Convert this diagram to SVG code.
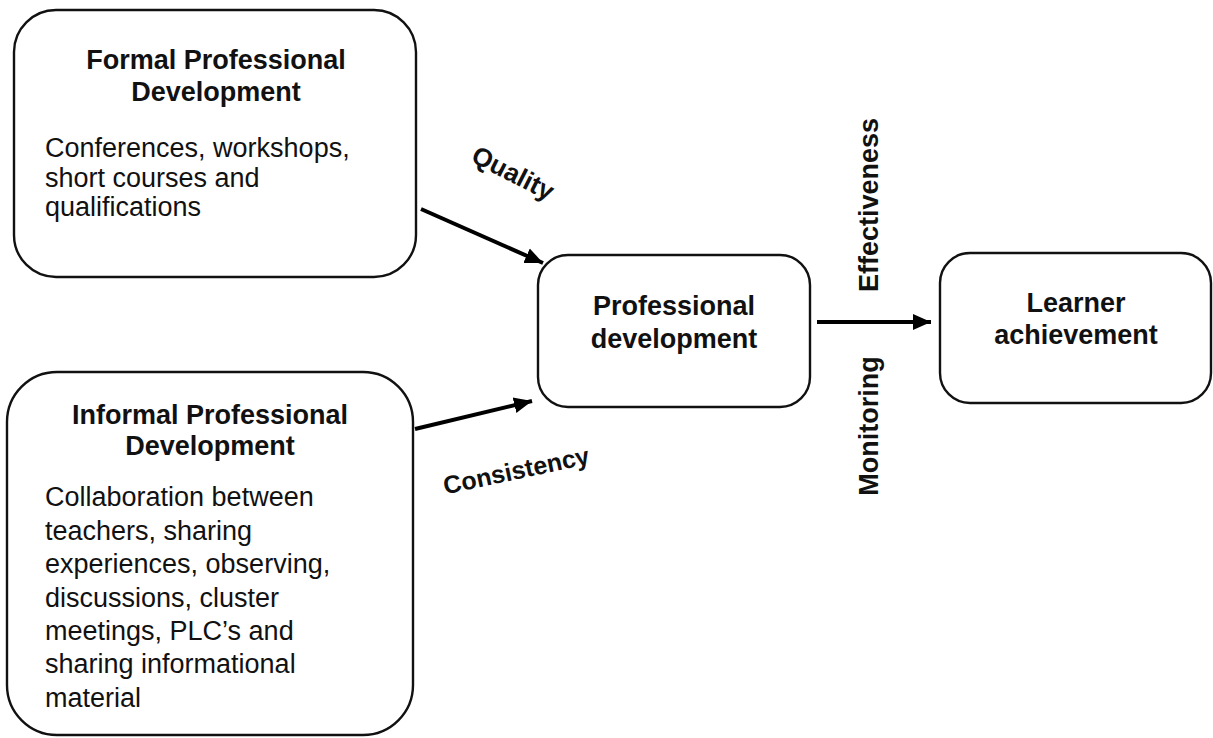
<svg xmlns="http://www.w3.org/2000/svg" width="1213" height="738" viewBox="0 0 1213 738">
  <style>
    .box { fill: #ffffff; stroke: #111111; stroke-width: 2.4; }
    .t { font-family: "Liberation Sans", Arial, sans-serif; font-size: 27px; fill: #111111; }
    .b { font-weight: bold; }
    .mid { text-anchor: middle; }
    .lbl { font-family: "Liberation Sans", Arial, sans-serif; font-size: 25px; font-weight: bold; fill: #111111; text-anchor: middle; }
    .lbl.big { font-size: 26px; }
    .vlbl { font-family: "Liberation Sans", Arial, sans-serif; font-size: 27px; font-weight: bold; fill: #111111; text-anchor: middle; }
    .arrow { stroke: #000000; stroke-width: 4; fill: none; marker-end: url(#head); }
  </style>
  <defs>
    <marker id="head" markerUnits="userSpaceOnUse" markerWidth="20" markerHeight="18" refX="18" refY="9" orient="auto">
      <path d="M0,1 L18,9 L0,17 Z" fill="#000000"/>
    </marker>
  </defs>
  <rect width="1213" height="738" fill="#ffffff"/>

  <g id="formal-pd">
    <rect class="box" x="14" y="10" width="402" height="267" rx="42" ry="42"/>
    <text class="t b mid" x="216" y="69">Formal Professional</text>
    <text class="t b mid" x="216" y="101">Development</text>
    <text class="t" x="45" y="157">Conferences, workshops,</text>
    <text class="t" x="45" y="187">short courses and</text>
    <text class="t" x="45" y="216">qualifications</text>
  </g>

  <g id="informal-pd">
    <rect class="box" x="7" y="372" width="406" height="363" rx="50" ry="50"/>
    <text class="t b mid" x="210" y="424">Informal Professional</text>
    <text class="t b mid" x="210" y="455">Development</text>
    <text class="t" x="45" y="506">Collaboration between</text>
    <text class="t" x="45" y="540">teachers, sharing</text>
    <text class="t" x="45" y="573">experiences, observing,</text>
    <text class="t" x="45" y="607">discussions, cluster</text>
    <text class="t" x="45" y="640">meetings, PLC’s and</text>
    <text class="t" x="45" y="673">sharing informational</text>
    <text class="t" x="45" y="707">material</text>
  </g>

  <g id="professional-development">
    <rect class="box" x="538" y="255" width="272" height="152" rx="30" ry="30"/>
    <text class="t b mid" x="674" y="315">Professional</text>
    <text class="t b mid" x="674" y="348">development</text>
  </g>

  <g id="learner-achievement">
    <rect class="box" x="940" y="253" width="271" height="150" rx="30" ry="30"/>
    <text class="t b mid" x="1076" y="312">Learner</text>
    <text class="t b mid" x="1076" y="344">achievement</text>
  </g>

  <g id="connectors">
    <line class="arrow" x1="421" y1="209" x2="543" y2="263"/>
    <line class="arrow" x1="415" y1="429" x2="532" y2="401"/>
    <line class="arrow" x1="817" y1="322" x2="931" y2="322"/>
    <text class="lbl big" transform="translate(509,181) rotate(27)">Quality</text>
    <text class="lbl" transform="translate(518,479) rotate(-12)">Consistency</text>
    <text class="vlbl" transform="translate(878,205) rotate(-90)">Effectiveness</text>
    <text class="vlbl" transform="translate(878,426) rotate(-90)">Monitoring</text>
  </g>
</svg>
